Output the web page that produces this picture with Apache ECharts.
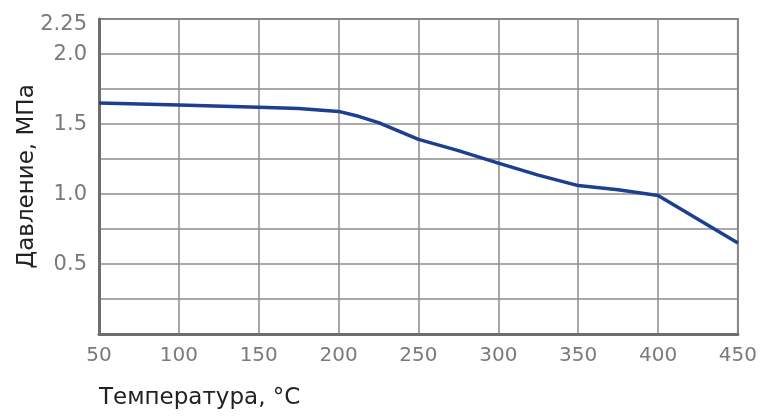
<!DOCTYPE html>
<html>
<head>
<meta charset="utf-8">
<script src="https://cdn.jsdelivr.net/npm/echarts@6/dist/echarts.min.js"></script>
<style>
html,body{margin:0;padding:0;background:#fff;}
#chart{width:760px;height:417px;}
</style>
</head>
<body>
<div id="chart"></div>
<script>
// Data
var temperatures = [50, 100, 150, 175, 200, 212.5, 225, 250, 275, 300, 325, 350, 375, 400, 450];
var pressures    = [1.65, 1.635, 1.62, 1.61, 1.59, 1.555, 1.51, 1.39, 1.31, 1.22, 1.135, 1.06, 1.03, 0.99, 0.65];
var yTickLabels  = ['0.5', '1.0', '1.5', '2.0', '2.25'];
var xTickValues  = [50, 100, 150, 200, 250, 300, 350, 400, 450];
var xAxisTitle = 'Температура, °C';
var yAxisTitle = 'Давление, МПа';

var seriesData = temperatures.map(function (t, i) { return [t, pressures[i]]; });

var chart = echarts.init(document.getElementById('chart'), null, {renderer: 'canvas'});
chart.setOption({
  animation: false,
  backgroundColor: '#ffffff',
  title: {
    text: xAxisTitle,
    left: 94,
    top: 382,
    textStyle: {fontFamily: 'DejaVu Sans', fontSize: 23, fontWeight: 'normal', color: '#222'}
  },
  grid: {
    left: 99, right: 19, top: 19, bottom: 83,
    show: true, borderColor: '#7a7a7a', borderWidth: 2
  },
  xAxis: {
    type: 'value',
    min: 50, max: 450, interval: 50,
    axisLine: {show: true, onZero: false, lineStyle: {color: '#6e6e6e', width: 3}},
    axisTick: {show: false},
    splitLine: {show: true, lineStyle: {color: '#8c8c8c', width: 1.5}},
    axisLabel: {
      margin: 12,
      color: '#7a7a7a', fontFamily: 'DejaVu Sans', fontSize: 20,
      formatter: function (v) { return xTickValues.indexOf(v) >= 0 ? String(v) : ''; }
    }
  },
  yAxis: {
    type: 'value',
    min: 0, max: 2.25, interval: 0.25,
    name: yAxisTitle,
    nameLocation: 'middle',
    nameGap: 60,
    nameMoveOverlap: false,
    nameTextStyle: {fontFamily: 'DejaVu Sans', fontSize: 23, color: '#222'},
    axisLine: {show: true, lineStyle: {color: '#6e6e6e', width: 3}},
    axisTick: {show: false},
    splitLine: {show: true, lineStyle: {color: '#8c8c8c', width: 1.5}},
    axisLabel: {
      margin: 12,
      color: '#7a7a7a', fontFamily: 'DejaVu Sans', fontSize: 21,
      formatter: function (v) {
        var s = (Math.abs(v - 2.25) < 1e-9) ? '2.25' : v.toFixed(1);
        if (yTickLabels.indexOf(s) < 0 || Math.abs(parseFloat(s) - v) > 1e-9) return '';
        return s === '2.25' ? '{top|' + s + '}' : '{n|' + s + '}';
      },
      rich: {
        top: {color: '#7a7a7a', fontFamily: 'DejaVu Sans', fontSize: 21, padding: [12, 0, 0, 0]},
        n: {color: '#7a7a7a', fontFamily: 'DejaVu Sans', fontSize: 21, padding: [2, 0, 0, 0]}
      }
    }
  },
  series: [{
    type: 'line',
    data: seriesData,
    showSymbol: false,
    smooth: false,
    lineStyle: {color: '#1d3f8f', width: 3.5, join: 'round'},
    z: 5
  }]
});
</script>
</body>
</html>
